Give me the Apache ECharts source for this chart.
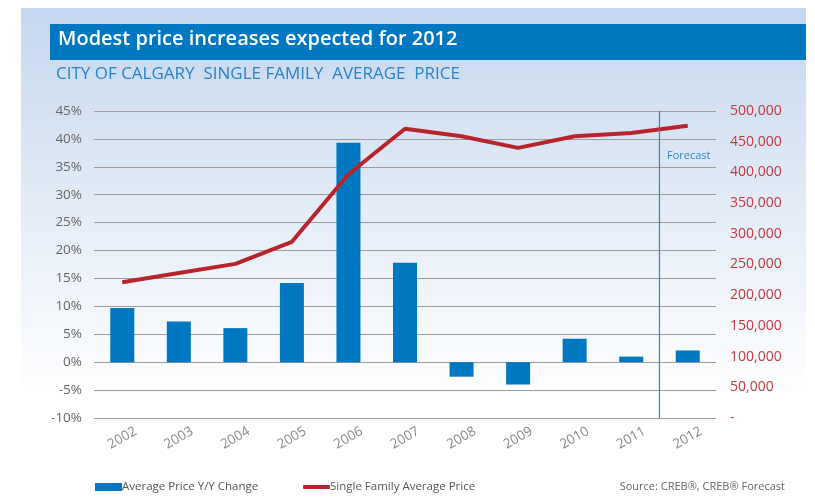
<!DOCTYPE html>
<html><head><meta charset="utf-8">
<script src="https://cdn.jsdelivr.net/npm/echarts@6/dist/echarts.min.js"></script>
<style>html,body{margin:0;padding:0;background:#fff}#c{width:815px;height:499px}</style>
</head><body><div id="c"></div>
<script>
var years = ['2002','2003','2004','2005','2006','2007','2008','2009','2010','2011','2012'];
var yoyChange = [9.7, 7.3, 6.1, 14.2, 39.3, 17.8, -2.6, -4.0, 4.2, 1.0, 2.1];
var avgPrice = [221000, 236000, 251000, 287000, 397000, 471000, 459000, 440000, 459000, 464000, 476000];
var forecastAt = 9.5;
var pctTicks = {min: -10, max: 45, interval: 5};
var priceTicks = {min: 0, max: 500000, interval: 50000};

var FONT = '"Open Sans", Lato, sans-serif';
var chart = echarts.init(document.getElementById('c'));
chart.setOption({
  animation: false,
  textStyle: {fontFamily: FONT},
  graphic: [
    {type: 'rect', left: 21, top: 8, shape: {width: 785, height: 491}, z: -10, silent: true,
     style: {fill: new echarts.graphic.LinearGradient(0, 0, 0, 1, [
       {offset: 0, color: '#c4d7ee'}, {offset: 0.55, color: '#eef3fa'}, {offset: 0.8, color: '#ffffff'}, {offset: 1, color: '#ffffff'}])}},
    {type: 'rect', left: 50, top: 24, shape: {width: 756, height: 36}, z: -9, silent: true,
     style: {fill: '#0077c1'}},
    {type: 'text', left: 58, top: 29, z: 10, style: {text: 'Modest price increases expected for 2012',
      fill: '#ffffff', font: '600 20px ' + FONT}},
    {type: 'text', left: 56, top: 66, z: 10, style: {text: 'CITY OF CALGARY  SINGLE FAMILY  AVERAGE  PRICE',
      fill: '#2a82c6', font: '17px ' + FONT}},
    {type: 'text', left: 667, top: 150, z: 10, style: {text: 'Forecast', fill: '#2a86c8', font: '11px ' + FONT}},
    {type: 'text', right: 30, top: 481, z: 10, style: {text: 'Source: CREB\u00ae, CREB\u00ae Forecast', fill: '#666', font: '11px ' + FONT}}
  ],
  legend: [
    {left: 95, top: 481, padding: 0, itemWidth: 27, itemHeight: 8, itemGap: 0, icon: 'rect',
     data: ['Average Price Y/Y Change'], textStyle: {color: '#555', fontSize: 11.5, padding: [0, 0, 0, -5]}},
    {left: 303, top: 481, padding: 0, itemWidth: 27, itemHeight: 4, itemGap: 0, icon: 'roundRect',
     data: ['Single Family Average Price'], textStyle: {color: '#555', fontSize: 11.5, padding: [0, 0, 0, -5]}}
  ],
  grid: {left: 94, right: 99, top: 111, bottom: 81, containLabel: false},
  xAxis: [
    {type: 'category', data: years, boundaryGap: true,
     axisLine: {show: false}, axisTick: {show: false},
     axisLabel: {rotate: 30, color: '#888', fontSize: 13.5, margin: 20, align: 'center', interval: 0}},
    {type: 'value', min: -0.5, max: 10.5, show: false}
  ],
  yAxis: [
    {type: 'value', min: pctTicks.min, max: pctTicks.max, interval: pctTicks.interval,
     axisLine: {show: false}, axisTick: {show: false},
     axisLabel: {formatter: '{value}%', color: '#666', fontSize: 13.5, margin: 12},
     splitLine: {lineStyle: {color: '#9c9c9c', width: 1.2}}},
    {type: 'value', min: priceTicks.min, max: priceTicks.max, interval: priceTicks.interval, position: 'right',
     axisLine: {show: false}, axisTick: {show: false}, splitLine: {show: false},
     axisLabel: {color: '#c4383c', fontSize: 14, margin: 14,
       formatter: function (v) { return v === 0 ? '-' : v.toLocaleString('en-US'); }}}
  ],
  series: [
    {name: 'Average Price Y/Y Change', type: 'bar', data: yoyChange, barWidth: 24,
     itemStyle: {color: '#0077c1'}, z: 2},
    {name: 'Single Family Average Price', type: 'line', yAxisIndex: 1, data: avgPrice,
     symbol: 'none', lineStyle: {color: '#b8242b', width: 4}, itemStyle: {color: '#b8242b'}, z: 3},
    {name: 'forecastLine', type: 'line', xAxisIndex: 1, yAxisIndex: 0,
     data: [[forecastAt, pctTicks.min], [forecastAt, pctTicks.max]], symbol: 'none',
     lineStyle: {color: '#2f86c6', width: 1.2}, z: 4, silent: true}
  ]
});
</script></body></html>
